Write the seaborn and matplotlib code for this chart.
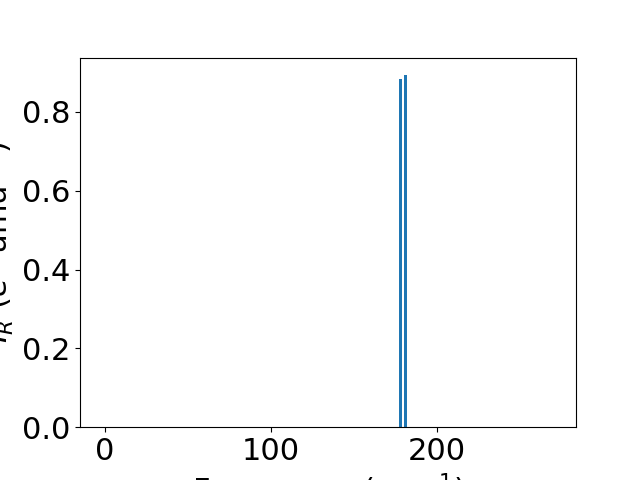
import matplotlib
matplotlib.use("Agg")
import matplotlib.pyplot as plt
import seaborn as sns

frequencies = [178.0, 181.0]
intensities = [0.883, 0.893]

plt.rcParams['font.family'] = ['DejaVu Sans']
color = sns.color_palette("tab10")[0]

fig, ax = plt.subplots(figsize=(6.4, 4.8), dpi=100)
ax.bar(frequencies, intensities, width=1.8, color=color)
ax.set_xlim(-15, 284)
ax.set_xlabel("Frequency (cm$^{-1}$)", fontsize=22)
ax.set_ylabel("$I_R$ ($e^2$ amu$^{-1}$)", fontsize=22)
ax.tick_params(labelsize=22)
fig.savefig("out.png", dpi=100)
